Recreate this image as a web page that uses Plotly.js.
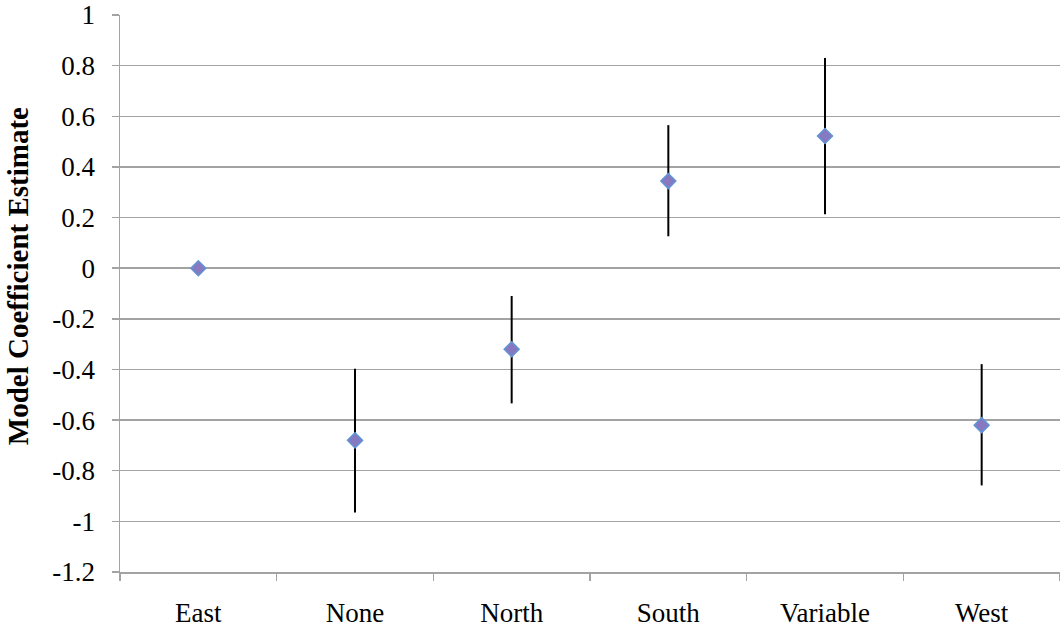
<!DOCTYPE html>
<html>
<head>
<meta charset="utf-8">
<script src="https://cdn.plot.ly/plotly-3.0.1.min.js"></script>
<style>html,body{margin:0;padding:0;background:#fff;}#chart{width:1060px;height:633px;}</style>
</head>
<body>
<div id="chart"></div>
<script>
const categories = ["East", "None", "North", "South", "Variable", "West"];
const estimates = [0, -0.68, -0.32, 0.344, 0.522, -0.62];
const upper = [0, -0.397, -0.11, 0.565, 0.83, -0.379];
const lower = [0, -0.965, -0.534, 0.126, 0.213, -0.858];
const yTickVals = [1, 0.8, 0.6, 0.4, 0.2, 0, -0.2, -0.4, -0.6, -0.8, -1, -1.2];
const yTickText = ["1", "0.8", "0.6", "0.4", "0.2", "0", "-0.2", "-0.4", "-0.6", "-0.8", "-1", "-1.2"];
const yTitle = "Model Coefficient Estimate";

const errPlus = estimates.map((v, i) => upper[i] - v);
const errMinus = estimates.map((v, i) => v - lower[i]);

const trace = {
  type: "scatter",
  mode: "markers",
  x: categories,
  y: estimates,
  marker: {symbol: "diamond", size: 11.5, color: "#8878bf", line: {color: "#5f95d6", width: 1.5}},
  error_y: {type: "data", symmetric: false, array: errPlus, arrayminus: errMinus, width: 0, thickness: 2, color: "#000"},
  showlegend: false,
  cliponaxis: false
};

const gray = "#a3a3a3";
const layout = {
  width: 1060, height: 633,
  margin: {l: 120, r: 0, t: 15, b: 61},
  paper_bgcolor: "#fff", plot_bgcolor: "#fff",
  font: {family: "Liberation Serif, Times New Roman, serif", size: 27, color: "#000"},
  xaxis: {
    type: "category",
    range: [-0.5, 5.5],
    showline: true, linecolor: gray, linewidth: 1.5,
    ticks: "outside", tickson: "boundaries", ticklen: 7, tickcolor: gray, tickwidth: 1.5,
    showgrid: false, zeroline: false,
    ticklabelstandoff: 16,
    tickfont: {size: 27}
  },
  yaxis: {
    range: [-1.2, 1],
    tickmode: "array", tickvals: yTickVals, ticktext: yTickText,
    showline: true, linecolor: gray, linewidth: 1.5,
    ticks: "outside", ticklen: 7, tickcolor: gray, tickwidth: 1.5,
    showgrid: true, gridcolor: gray, gridwidth: 1.5,
    zeroline: false,
    ticklabelstandoff: 11,
    tickfont: {size: 27}
  },
  annotations: [{
    text: "<b>" + yTitle + "</b>",
    xref: "paper", yref: "paper",
    x: -0.1085, y: 0.531,
    xanchor: "center", yanchor: "middle",
    textangle: -90, showarrow: false,
    font: {size: 29}
  }]
};

Plotly.newPlot("chart", [trace], layout, {displayModeBar: false, staticPlot: true});
</script>
</body>
</html>
